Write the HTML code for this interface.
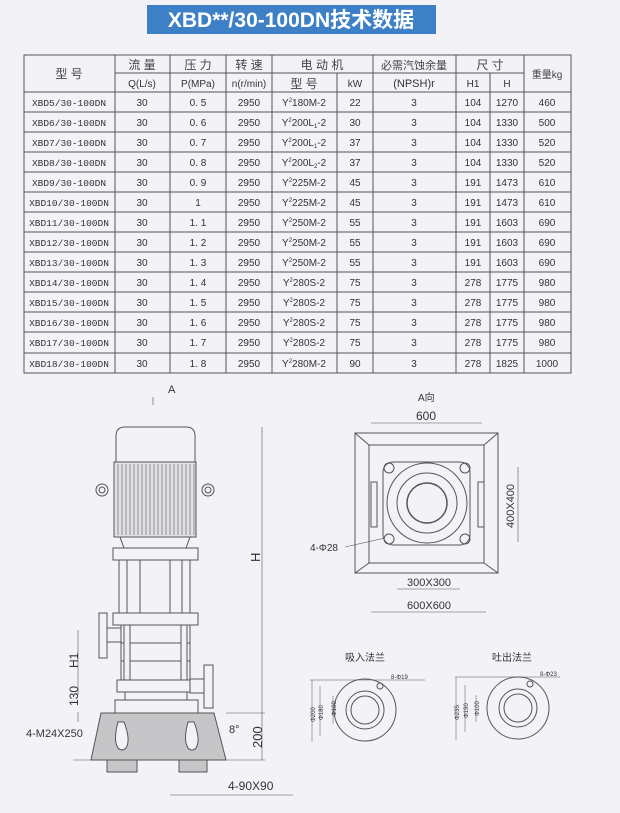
<!DOCTYPE html>
<html><head><meta charset="utf-8"><style>
html,body{margin:0;padding:0;background:#f3f3f7;}
svg{display:block;}
text{font-family:"Liberation Sans","Noto Sans CJK SC",sans-serif;fill:#333;}
.t{font-size:10px;text-anchor:middle;}
.h{font-size:12px;text-anchor:middle;fill:#444;}
.m{font-family:"Liberation Mono","Noto Sans CJK SC",monospace;font-size:9.5px;text-anchor:middle;}
.d{font-size:11px;}
</style></head><body>
<svg width="620" height="813" viewBox="0 0 620 813" xmlns="http://www.w3.org/2000/svg">
<rect width="620" height="813" fill="#f3f3f7"/>
<rect x="147" y="5" width="289" height="29" fill="#3e80c6"/>
<text x="291" y="27" style="font-size:21px;font-weight:bold;fill:#fff;text-anchor:middle">XBD**/30-100DN技术数据</text>

<!-- table grid -->
<g stroke="#555" stroke-width="1" fill="none">
<rect x="24" y="55" width="547" height="318"/>
<line x1="115" y1="73" x2="272" y2="73"/><line x1="272" y1="73" x2="373" y2="73"/><line x1="373" y1="73" x2="524" y2="73"/>
<line x1="24" y1="92" x2="571" y2="92"/>
<line x1="115" y1="55" x2="115" y2="373"/><line x1="170" y1="55" x2="170" y2="373"/><line x1="226" y1="55" x2="226" y2="373"/><line x1="272" y1="55" x2="272" y2="373"/>
<line x1="337" y1="73" x2="337" y2="373"/><line x1="373" y1="55" x2="373" y2="373"/><line x1="456" y1="55" x2="456" y2="373"/>
<line x1="490" y1="73" x2="490" y2="373"/><line x1="524" y1="55" x2="524" y2="373"/>
<line x1="24" y1="112" x2="571" y2="112"/><line x1="24" y1="132" x2="571" y2="132"/><line x1="24" y1="152" x2="571" y2="152"/>
<line x1="24" y1="172" x2="571" y2="172"/><line x1="24" y1="192" x2="571" y2="192"/><line x1="24" y1="212" x2="571" y2="212"/>
<line x1="24" y1="232" x2="571" y2="232"/><line x1="24" y1="252" x2="571" y2="252"/><line x1="24" y1="272" x2="571" y2="272"/>
<line x1="24" y1="292" x2="571" y2="292"/><line x1="24" y1="312" x2="571" y2="312"/><line x1="24" y1="332" x2="571" y2="332"/>
<line x1="24" y1="353" x2="571" y2="353"/>
</g>
<text class="h" x="69" y="78">型 号</text>
<text class="h" x="142" y="69">流 量</text><text class="h" x="198" y="69">压 力</text><text class="h" x="249" y="69">转 速</text>
<text class="h" x="322" y="69">电 动 机</text><text class="h" x="414" y="69" style="font-size:11px">必需汽蚀余量</text>
<text class="h" x="490" y="69">尺 寸</text><text class="h" x="547" y="78" style="font-size:10px">重量kg</text>
<text class="t" x="142" y="87">Q(L/s)</text><text class="t" x="198" y="87">P(MPa)</text><text class="t" x="249" y="87">n(r/min)</text>
<text class="h" x="304" y="88">型 号</text><text class="t" x="355" y="87">kW</text><text class="t" x="414" y="87" style="font-size:11px">(NPSH)r</text>
<text class="t" x="473" y="87">H1</text><text class="t" x="507" y="87">H</text>

<g class="d">
<g id="rows">
<text class="m" x="69" y="106">XBD5/30-100DN</text><text class="t" x="142" y="106">30</text><text class="t" x="198" y="106">0. 5</text><text class="t" x="249" y="106">2950</text><text class="t" x="304" y="106">Y<tspan dy="-4" font-size="6">2</tspan><tspan dy="4">180M-2</tspan></text><text class="t" x="355" y="106">22</text><text class="t" x="414" y="106">3</text><text class="t" x="473" y="106">104</text><text class="t" x="507" y="106">1270</text><text class="t" x="547" y="106">460</text>
<text class="m" x="69" y="126">XBD6/30-100DN</text><text class="t" x="142" y="126">30</text><text class="t" x="198" y="126">0. 6</text><text class="t" x="249" y="126">2950</text><text class="t" x="304" y="126">Y<tspan dy="-4" font-size="6">2</tspan><tspan dy="4">200L</tspan><tspan dy="2" font-size="6">1</tspan><tspan dy="-2">-2</tspan></text><text class="t" x="355" y="126">30</text><text class="t" x="414" y="126">3</text><text class="t" x="473" y="126">104</text><text class="t" x="507" y="126">1330</text><text class="t" x="547" y="126">500</text>
<text class="m" x="69" y="146">XBD7/30-100DN</text><text class="t" x="142" y="146">30</text><text class="t" x="198" y="146">0. 7</text><text class="t" x="249" y="146">2950</text><text class="t" x="304" y="146">Y<tspan dy="-4" font-size="6">2</tspan><tspan dy="4">200L</tspan><tspan dy="2" font-size="6">1</tspan><tspan dy="-2">-2</tspan></text><text class="t" x="355" y="146">37</text><text class="t" x="414" y="146">3</text><text class="t" x="473" y="146">104</text><text class="t" x="507" y="146">1330</text><text class="t" x="547" y="146">520</text>
<text class="m" x="69" y="166">XBD8/30-100DN</text><text class="t" x="142" y="166">30</text><text class="t" x="198" y="166">0. 8</text><text class="t" x="249" y="166">2950</text><text class="t" x="304" y="166">Y<tspan dy="-4" font-size="6">2</tspan><tspan dy="4">200L</tspan><tspan dy="2" font-size="6">2</tspan><tspan dy="-2">-2</tspan></text><text class="t" x="355" y="166">37</text><text class="t" x="414" y="166">3</text><text class="t" x="473" y="166">104</text><text class="t" x="507" y="166">1330</text><text class="t" x="547" y="166">520</text>
<text class="m" x="69" y="186">XBD9/30-100DN</text><text class="t" x="142" y="186">30</text><text class="t" x="198" y="186">0. 9</text><text class="t" x="249" y="186">2950</text><text class="t" x="304" y="186">Y<tspan dy="-4" font-size="6">2</tspan><tspan dy="4">225M-2</tspan></text><text class="t" x="355" y="186">45</text><text class="t" x="414" y="186">3</text><text class="t" x="473" y="186">191</text><text class="t" x="507" y="186">1473</text><text class="t" x="547" y="186">610</text>
<text class="m" x="69" y="206">XBD10/30-100DN</text><text class="t" x="142" y="206">30</text><text class="t" x="198" y="206">1</text><text class="t" x="249" y="206">2950</text><text class="t" x="304" y="206">Y<tspan dy="-4" font-size="6">2</tspan><tspan dy="4">225M-2</tspan></text><text class="t" x="355" y="206">45</text><text class="t" x="414" y="206">3</text><text class="t" x="473" y="206">191</text><text class="t" x="507" y="206">1473</text><text class="t" x="547" y="206">610</text>
<text class="m" x="69" y="226">XBD11/30-100DN</text><text class="t" x="142" y="226">30</text><text class="t" x="198" y="226">1. 1</text><text class="t" x="249" y="226">2950</text><text class="t" x="304" y="226">Y<tspan dy="-4" font-size="6">2</tspan><tspan dy="4">250M-2</tspan></text><text class="t" x="355" y="226">55</text><text class="t" x="414" y="226">3</text><text class="t" x="473" y="226">191</text><text class="t" x="507" y="226">1603</text><text class="t" x="547" y="226">690</text>
<text class="m" x="69" y="246">XBD12/30-100DN</text><text class="t" x="142" y="246">30</text><text class="t" x="198" y="246">1. 2</text><text class="t" x="249" y="246">2950</text><text class="t" x="304" y="246">Y<tspan dy="-4" font-size="6">2</tspan><tspan dy="4">250M-2</tspan></text><text class="t" x="355" y="246">55</text><text class="t" x="414" y="246">3</text><text class="t" x="473" y="246">191</text><text class="t" x="507" y="246">1603</text><text class="t" x="547" y="246">690</text>
<text class="m" x="69" y="266">XBD13/30-100DN</text><text class="t" x="142" y="266">30</text><text class="t" x="198" y="266">1. 3</text><text class="t" x="249" y="266">2950</text><text class="t" x="304" y="266">Y<tspan dy="-4" font-size="6">2</tspan><tspan dy="4">250M-2</tspan></text><text class="t" x="355" y="266">55</text><text class="t" x="414" y="266">3</text><text class="t" x="473" y="266">191</text><text class="t" x="507" y="266">1603</text><text class="t" x="547" y="266">690</text>
<text class="m" x="69" y="286">XBD14/30-100DN</text><text class="t" x="142" y="286">30</text><text class="t" x="198" y="286">1. 4</text><text class="t" x="249" y="286">2950</text><text class="t" x="304" y="286">Y<tspan dy="-4" font-size="6">2</tspan><tspan dy="4">280S-2</tspan></text><text class="t" x="355" y="286">75</text><text class="t" x="414" y="286">3</text><text class="t" x="473" y="286">278</text><text class="t" x="507" y="286">1775</text><text class="t" x="547" y="286">980</text>
<text class="m" x="69" y="306">XBD15/30-100DN</text><text class="t" x="142" y="306">30</text><text class="t" x="198" y="306">1. 5</text><text class="t" x="249" y="306">2950</text><text class="t" x="304" y="306">Y<tspan dy="-4" font-size="6">2</tspan><tspan dy="4">280S-2</tspan></text><text class="t" x="355" y="306">75</text><text class="t" x="414" y="306">3</text><text class="t" x="473" y="306">278</text><text class="t" x="507" y="306">1775</text><text class="t" x="547" y="306">980</text>
<text class="m" x="69" y="326">XBD16/30-100DN</text><text class="t" x="142" y="326">30</text><text class="t" x="198" y="326">1. 6</text><text class="t" x="249" y="326">2950</text><text class="t" x="304" y="326">Y<tspan dy="-4" font-size="6">2</tspan><tspan dy="4">280S-2</tspan></text><text class="t" x="355" y="326">75</text><text class="t" x="414" y="326">3</text><text class="t" x="473" y="326">278</text><text class="t" x="507" y="326">1775</text><text class="t" x="547" y="326">980</text>
<text class="m" x="69" y="346">XBD17/30-100DN</text><text class="t" x="142" y="346">30</text><text class="t" x="198" y="346">1. 7</text><text class="t" x="249" y="346">2950</text><text class="t" x="304" y="346">Y<tspan dy="-4" font-size="6">2</tspan><tspan dy="4">280S-2</tspan></text><text class="t" x="355" y="346">75</text><text class="t" x="414" y="346">3</text><text class="t" x="473" y="346">278</text><text class="t" x="507" y="346">1775</text><text class="t" x="547" y="346">980</text>
<text class="m" x="69" y="367">XBD18/30-100DN</text><text class="t" x="142" y="367">30</text><text class="t" x="198" y="367">1. 8</text><text class="t" x="249" y="367">2950</text><text class="t" x="304" y="367">Y<tspan dy="-4" font-size="6">2</tspan><tspan dy="4">280M-2</tspan></text><text class="t" x="355" y="367">90</text><text class="t" x="414" y="367">3</text><text class="t" x="473" y="367">278</text><text class="t" x="507" y="367">1825</text><text class="t" x="547" y="367">1000</text>
</g></g>

<!-- pump side view -->
<g stroke="#555" stroke-width="1" fill="#f3f3f7">
<path d="M116,462 L116,436 Q116,427 125,427 L186,427 Q195,427 195,436 L195,462 Z"/>
<rect x="114" y="462" width="82" height="75" fill="#e2e2e6"/>
<path d="M120,537 L190,537 L186,548 L124,548 Z"/>
<circle cx="102" cy="490" r="6"/><circle cx="102" cy="490" r="3"/>
<circle cx="208" cy="490" r="6"/><circle cx="208" cy="490" r="3"/>
<rect x="113" y="548" width="85" height="12"/>
<rect x="119" y="560" width="8" height="53"/><rect x="182" y="560" width="8" height="53"/>
<rect x="140" y="560" width="30" height="53"/>
<rect x="113" y="613" width="85" height="12"/>
<rect x="121" y="625" width="69" height="55"/>
<line x1="121" y1="643" x2="190" y2="643"/><line x1="121" y1="661" x2="190" y2="661"/>
<rect x="124" y="625" width="6" height="55"/><rect x="181" y="625" width="6" height="55"/>
<rect x="117" y="680" width="77" height="12"/>
<rect x="125" y="692" width="62" height="8"/>
<rect x="115" y="700" width="83" height="13"/>
<rect x="99" y="613" width="8" height="45"/><rect x="107" y="628" width="14" height="14"/>
<rect x="204" y="665" width="9" height="43"/><rect x="190" y="679" width="14" height="14"/>
<path d="M101,713 L214,713 L226,760 L91,760 Z" fill="#c6c6c8"/>
<rect x="107" y="760" width="30" height="12" fill="#c6c6c8"/><rect x="179" y="760" width="28" height="12" fill="#c6c6c8"/>
<path d="M118,722 Q113,740 118,748 Q122,752 126,748 Q131,740 124,722 Z"/>
<path d="M188,722 Q183,740 188,748 Q192,752 196,748 Q201,740 194,722 Z"/>
</g>
<g stroke="#555" stroke-width="0.6">
<line x1="118" y1="464" x2="118" y2="535"/><line x1="122" y1="464" x2="122" y2="535"/><line x1="126" y1="464" x2="126" y2="535"/><line x1="130" y1="464" x2="130" y2="535"/><line x1="134" y1="464" x2="134" y2="535"/><line x1="138" y1="464" x2="138" y2="535"/><line x1="142" y1="464" x2="142" y2="535"/><line x1="146" y1="464" x2="146" y2="535"/><line x1="150" y1="464" x2="150" y2="535"/><line x1="154" y1="464" x2="154" y2="535"/><line x1="158" y1="464" x2="158" y2="535"/><line x1="162" y1="464" x2="162" y2="535"/><line x1="166" y1="464" x2="166" y2="535"/><line x1="170" y1="464" x2="170" y2="535"/><line x1="174" y1="464" x2="174" y2="535"/><line x1="178" y1="464" x2="178" y2="535"/><line x1="182" y1="464" x2="182" y2="535"/><line x1="186" y1="464" x2="186" y2="535"/><line x1="190" y1="464" x2="190" y2="535"/><line x1="194" y1="464" x2="194" y2="535"/>
<line x1="73" y1="760" x2="91" y2="760"/>
<line x1="262" y1="427" x2="262" y2="760"/><line x1="226" y1="713" x2="265" y2="713"/><line x1="226" y1="760" x2="265" y2="760"/>
<line x1="78" y1="630" x2="78" y2="695"/><line x1="78" y1="712" x2="78" y2="722"/>
<line x1="170" y1="795" x2="293" y2="795"/>
<line x1="153" y1="397" x2="153" y2="405"/>
</g>
<text x="168" y="393" style="font-size:11px">A</text>
<text transform="translate(260,562) rotate(-90)" style="font-size:13px">H</text>
<text transform="translate(78,668) rotate(-90)" style="font-size:12px">H1</text>
<text transform="translate(78,706) rotate(-90)" style="font-size:12px">130</text>
<text transform="translate(262,748) rotate(-90)" style="font-size:13px">200</text>
<text x="229" y="733" style="font-size:11px">8°</text>
<text x="26" y="737" style="font-size:11px">4-M24X250</text>
<text x="228" y="790" style="font-size:12px">4-90X90</text>

<!-- top view -->
<g stroke="#555" stroke-width="1" fill="none">
<rect x="355" y="433" width="143" height="140"/>
<rect x="369" y="445" width="115" height="118"/>
<line x1="355" y1="433" x2="369" y2="445"/><line x1="498" y1="433" x2="484" y2="445"/>
<line x1="355" y1="573" x2="369" y2="563"/><line x1="498" y1="573" x2="484" y2="563"/>
<rect x="383" y="462" width="87" height="83" rx="10"/>
<circle cx="427" cy="503" r="40" fill="#f3f3f7"/>
<circle cx="427" cy="503" r="30"/>
<circle cx="427" cy="503" r="20" stroke-width="1.5"/>
<rect x="371" y="482" width="6" height="45"/><rect x="478" y="482" width="6" height="45"/>
<circle cx="389" cy="468" r="5"/><circle cx="465" cy="468" r="5"/><circle cx="389" cy="539" r="5"/><circle cx="465" cy="539" r="5"/>
</g>
<g stroke="#555" stroke-width="0.6">
<line x1="371" y1="423" x2="482" y2="423"/><line x1="518" y1="467" x2="518" y2="542"/>
<line x1="397" y1="589" x2="460" y2="589"/><line x1="371" y1="612" x2="486" y2="612"/>
<line x1="345" y1="547" x2="385" y2="538"/>
</g>
<text x="418" y="401" style="font-size:10px">A向</text>
<text x="416" y="420" style="font-size:12px">600</text>
<text transform="translate(514,528) rotate(-90)" style="font-size:11px">400X400</text>
<text x="310" y="551" style="font-size:10px">4-Φ28</text>
<text x="407" y="586" style="font-size:11px">300X300</text>
<text x="407" y="609" style="font-size:11px">600X600</text>

<!-- flanges -->
<text x="345" y="661" style="font-size:10px">吸入法兰</text>
<text x="492" y="661" style="font-size:10px">吐出法兰</text>
<g stroke="#555" stroke-width="1" fill="none">
<circle cx="365" cy="710" r="31"/><circle cx="365" cy="710" r="19"/><circle cx="365" cy="710" r="14"/><circle cx="380" cy="686" r="3"/>
<circle cx="518" cy="708" r="31"/><circle cx="518" cy="708" r="19"/><circle cx="518" cy="708" r="14"/><circle cx="530" cy="684" r="3"/>
</g>
<g stroke="#555" stroke-width="0.5">
<line x1="310" y1="680" x2="425" y2="680"/><line x1="455" y1="677" x2="560" y2="677"/>
<line x1="312" y1="680" x2="312" y2="742"/><line x1="320" y1="686" x2="320" y2="736"/><line x1="333" y1="696" x2="333" y2="724"/>
<line x1="456" y1="677" x2="456" y2="740"/><line x1="465" y1="685" x2="465" y2="732"/><line x1="476" y1="695" x2="476" y2="722"/>
</g>
<text transform="translate(315,722) rotate(-90)" style="font-size:6px">Φ200</text>
<text transform="translate(323,720) rotate(-90)" style="font-size:6px">Φ180</text>
<text transform="translate(336,716) rotate(-90)" style="font-size:6px">Φ100</text>
<text transform="translate(459,720) rotate(-90)" style="font-size:6px">Φ235</text>
<text transform="translate(468,718) rotate(-90)" style="font-size:6px">Φ190</text>
<text transform="translate(479,716) rotate(-90)" style="font-size:6px">Φ100</text>
<text x="391" y="679" style="font-size:6px">8-Φ19</text>
<text x="540" y="676" style="font-size:6px">8-Φ23</text>
</svg>
</body></html>
